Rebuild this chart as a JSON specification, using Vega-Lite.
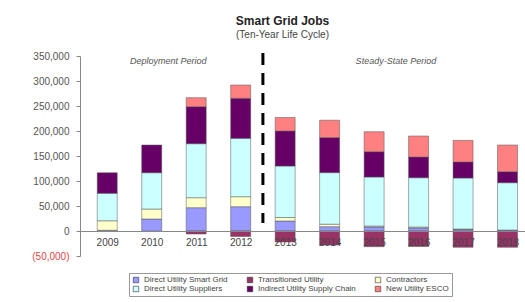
{
  "$schema": "https://vega.github.io/schema/vega-lite/v6.json",
  "width": 445,
  "height": 200,
  "autosize": {"type": "none"},
  "padding": {"left": 80, "top": 56, "right": 0, "bottom": 46},
  "background": "white",
  "config": {
    "font": "Liberation Sans",
    "view": {"stroke": null},
    "axisY": {"labelOverlap": false, "labelBound": false},
    "axisX": {"labelOverlap": false}
  },
  "title": {
    "text": "Smart Grid Jobs",
    "subtitle": "(Ten-Year Life Cycle)",
    "anchor": "middle",
    "dx": -20,
    "offset": 10,
    "fontSize": 12,
    "fontWeight": "bold",
    "color": "#222",
    "subtitleFontSize": 10,
    "subtitleColor": "#444",
    "subtitlePadding": 2
  },
  "datasets": {
    "seriesInfo": [
      {"series": "Direct Utility Smart Grid", "rank": 1},
      {"series": "Transitioned Utility", "rank": 2},
      {"series": "Contractors", "rank": 3},
      {"series": "Direct Utility Suppliers", "rank": 4},
      {"series": "Indirect Utility Supply Chain", "rank": 5},
      {"series": "New Utility ESCO", "rank": 6}
    ]
  },
  "layer": [
    {
      "data": {
        "values": [
          {"year": 2009, "series": "Direct Utility Smart Grid", "jobs": 1500},
          {"year": 2009, "series": "Contractors", "jobs": 19000},
          {"year": 2009, "series": "Direct Utility Suppliers", "jobs": 55000},
          {"year": 2009, "series": "Indirect Utility Supply Chain", "jobs": 41000},
          {"year": 2010, "series": "Direct Utility Smart Grid", "jobs": 24000},
          {"year": 2010, "series": "Contractors", "jobs": 20000},
          {"year": 2010, "series": "Direct Utility Suppliers", "jobs": 72600},
          {"year": 2010, "series": "Indirect Utility Supply Chain", "jobs": 55400},
          {"year": 2011, "series": "Direct Utility Smart Grid", "jobs": 46600},
          {"year": 2011, "series": "Transitioned Utility", "jobs": -6000},
          {"year": 2011, "series": "Contractors", "jobs": 20000},
          {"year": 2011, "series": "Direct Utility Suppliers", "jobs": 108000},
          {"year": 2011, "series": "Indirect Utility Supply Chain", "jobs": 74000},
          {"year": 2011, "series": "New Utility ESCO", "jobs": 18000},
          {"year": 2012, "series": "Direct Utility Smart Grid", "jobs": 48600},
          {"year": 2012, "series": "Transitioned Utility", "jobs": -11000},
          {"year": 2012, "series": "Contractors", "jobs": 20000},
          {"year": 2012, "series": "Direct Utility Suppliers", "jobs": 116800},
          {"year": 2012, "series": "Indirect Utility Supply Chain", "jobs": 80000},
          {"year": 2012, "series": "New Utility ESCO", "jobs": 26600},
          {"year": 2013, "series": "Direct Utility Smart Grid", "jobs": 20000},
          {"year": 2013, "series": "Transitioned Utility", "jobs": -22000},
          {"year": 2013, "series": "Contractors", "jobs": 7000},
          {"year": 2013, "series": "Direct Utility Suppliers", "jobs": 103000},
          {"year": 2013, "series": "Indirect Utility Supply Chain", "jobs": 70000},
          {"year": 2013, "series": "New Utility ESCO", "jobs": 27000},
          {"year": 2014, "series": "Direct Utility Smart Grid", "jobs": 8600},
          {"year": 2014, "series": "Transitioned Utility", "jobs": -28000},
          {"year": 2014, "series": "Contractors", "jobs": 5000},
          {"year": 2014, "series": "Direct Utility Suppliers", "jobs": 103200},
          {"year": 2014, "series": "Indirect Utility Supply Chain", "jobs": 70000},
          {"year": 2014, "series": "New Utility ESCO", "jobs": 34800},
          {"year": 2015, "series": "Direct Utility Smart Grid", "jobs": 8000},
          {"year": 2015, "series": "Transitioned Utility", "jobs": -31400},
          {"year": 2015, "series": "Contractors", "jobs": 2000},
          {"year": 2015, "series": "Direct Utility Suppliers", "jobs": 98000},
          {"year": 2015, "series": "Indirect Utility Supply Chain", "jobs": 50600},
          {"year": 2015, "series": "New Utility ESCO", "jobs": 40000},
          {"year": 2016, "series": "Direct Utility Smart Grid", "jobs": 6000},
          {"year": 2016, "series": "Transitioned Utility", "jobs": -31000},
          {"year": 2016, "series": "Contractors", "jobs": 2000},
          {"year": 2016, "series": "Direct Utility Suppliers", "jobs": 98600},
          {"year": 2016, "series": "Indirect Utility Supply Chain", "jobs": 41400},
          {"year": 2016, "series": "New Utility ESCO", "jobs": 42000},
          {"year": 2017, "series": "Direct Utility Smart Grid", "jobs": 3000},
          {"year": 2017, "series": "Transitioned Utility", "jobs": -32600},
          {"year": 2017, "series": "Contractors", "jobs": 1000},
          {"year": 2017, "series": "Direct Utility Suppliers", "jobs": 102000},
          {"year": 2017, "series": "Indirect Utility Supply Chain", "jobs": 32000},
          {"year": 2017, "series": "New Utility ESCO", "jobs": 43200},
          {"year": 2018, "series": "Direct Utility Smart Grid", "jobs": 2000},
          {"year": 2018, "series": "Transitioned Utility", "jobs": -32600},
          {"year": 2018, "series": "Direct Utility Suppliers", "jobs": 94600},
          {"year": 2018, "series": "Indirect Utility Supply Chain", "jobs": 22000},
          {"year": 2018, "series": "New Utility ESCO", "jobs": 53400}
        ]
      },
      "transform": [
        {"lookup": "series", "from": {"data": {"name": "seriesInfo"}, "key": "series", "fields": ["rank"]}}
      ],
      "mark": {"type": "bar", "size": 20, "stroke": "#555", "strokeWidth": 0.5},
      "encoding": {
        "x": {
          "field": "year",
          "type": "quantitative",
          "title": null,
          "scale": {"domain": [2008.5, 2018.28], "nice": false, "zero": false},
          "axis": {
            "title": null,
            "values": [2009, 2010, 2011, 2012, 2013, 2014, 2015, 2016, 2017, 2018],
            "tickCount": 20,
            "format": "d",
            "offset": -25,
            "ticks": false,
            "grid": false,
            "domainColor": "#888",
            "labelFontSize": 10,
            "labelColor": "#444",
            "labelPadding": 6,
            "labelFlush": false,
            "labelOverlap": false,
            "zindex": 1
          }
        },
        "y": {
          "field": "jobs",
          "type": "quantitative",
          "title": null,
          "stack": "zero",
          "scale": {"domain": [-50000, 350000], "nice": false},
          "axis": {
            "title": null,
            "values": [-50000, 0, 50000, 100000, 150000, 200000, 250000, 300000, 350000],
            "tickCount": 20,
            "labelExpr": "datum.value < 0 ? '(' + format(-datum.value, ',') + ')' : format(datum.value, ',')",
            "grid": false,
            "tickSize": 4,
            "tickColor": "#888",
            "domainColor": "#888",
            "labelFontSize": 10,
            "labelPadding": 7,
            "labelOverlap": false,
            "labelBound": false,
            "labelColor": {"expr": "datum.value < 0 ? '#e04848' : '#555'"}
          }
        },
        "order": {"field": "rank", "type": "quantitative", "sort": "ascending"},
        "color": {
          "field": "series",
          "type": "nominal",
          "scale": {
            "domain": ["Direct Utility Smart Grid", "Transitioned Utility", "Contractors", "Direct Utility Suppliers", "Indirect Utility Supply Chain", "New Utility ESCO"],
            "range": ["#9999FF", "#993366", "#FFFFCC", "#CCFFFF", "#660066", "#FF8080"]
          },
          "legend": {
            "title": null,
            "orient": "none",
            "legendX": 49,
            "legendY": 217,
            "direction": "horizontal",
            "columns": 3,
            "symbolType": "square",
            "symbolSize": 30,
            "symbolStrokeColor": "#333",
            "symbolStrokeWidth": 0.6,
            "symbolOpacity": 1,
            "labelFontSize": 8,
            "labelColor": "#444",
            "labelLimit": 200,
            "strokeColor": "#999",
            "padding": 3,
            "rowPadding": 1,
            "columnPadding": 18
          }
        }
      }
    },
    {
      "data": {"values": [{"year": 2012.5, "jobs": 356000, "jobs2": 16000}]},
      "mark": {"type": "rule", "color": "black", "strokeWidth": 3, "strokeDash": [12, 8]},
      "encoding": {
        "x": {"field": "year", "type": "quantitative", "title": null},
        "y": {"field": "jobs", "type": "quantitative", "title": null},
        "y2": {"field": "jobs2"}
      }
    },
    {
      "data": {
        "values": [
          {"year": 2010.37, "jobs": 340000, "label": "Deployment Period"},
          {"year": 2015.49, "jobs": 340000, "label": "Steady-State Period"}
        ]
      },
      "mark": {"type": "text", "fontStyle": "italic", "fontSize": 9, "color": "#555", "align": "center", "baseline": "middle"},
      "encoding": {
        "x": {"field": "year", "type": "quantitative", "title": null},
        "y": {"field": "jobs", "type": "quantitative", "title": null},
        "text": {"field": "label"}
      }
    }
  ]
}
